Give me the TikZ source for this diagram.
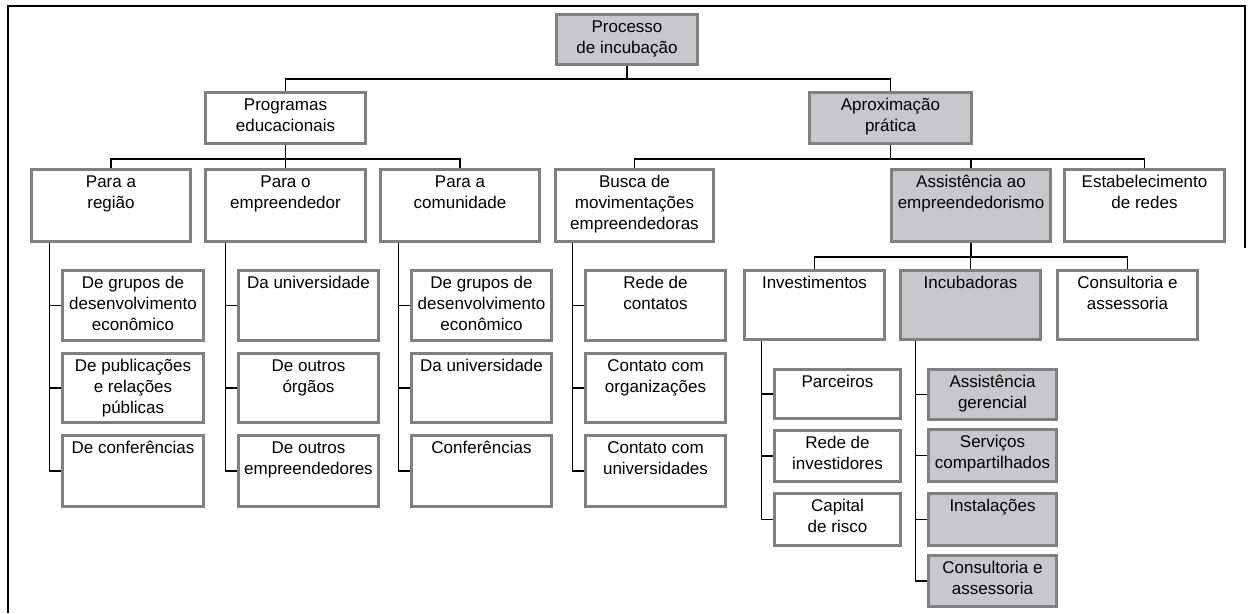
\documentclass[tikz,border=0pt]{standalone}
\usepackage{fontspec}
\setmainfont{Liberation Sans}
\usetikzlibrary{calc,backgrounds}

\definecolor{boxline}{RGB}{128,128,128}
\definecolor{boxgray}{RGB}{200,199,204}

\tikzset{
  box/.style={draw=boxline, line width=3pt, inner sep=0pt, outer sep=0pt,
              font=\fontsize{17pt}{21pt}\selectfont},
  whitebox/.style={box, fill=white},
  graybox/.style={box, fill=boxgray},
  conn/.style={draw=black, line width=1.5pt},
  frameline/.style={draw=black, line width=2.2pt}
}

% \bx[style]{name}{left}{top}{width}{height}{text}  (outer edges of the stroke)
\newcommand\bx[7][whitebox]{%
  \node[#1, anchor=north west] (#2) at ({#3+1.5},{#4+1.5})
    {\parbox[c][\dimexpr #6pt-3pt\relax][t]{\dimexpr #5pt-3pt\relax}%
      {\centering\rule{0pt}{18pt}#7\par}};}

% spine from parent down the left of its children
\newcommand\spine[3]{% parent, first child, last child
  \coordinate (#1-s) at ($(#2.west |- #1.south)+(-13,0)$);
  \draw[conn] (#1-s) |- (#3.west);}
\newcommand\branch[2]{\draw[conn] (#2.west) -- (#2.west -| #1-s);}

\begin{document}
\begin{tikzpicture}[x=1pt,y=-1pt]
\useasboundingbox (0,0) rectangle (1249,613);

% outer frame
\draw[frameline] (8,613) -- (8,6) -- (1245,6) -- (1245,248);

% level 1 and 2
\bx[graybox]{proc}{555}{13}{144}{53}{Processo\\de incubação}
\bx{prog}{204}{91}{163}{54}{Programas\\educacionais}
\bx[graybox]{aprox}{808}{91}{165}{54}{Aproximação\\prática}

% level 3
\bx{reg}{30}{168}{162}{75}{Para a\\região}
\bx{emp}{204}{168}{163}{75}{Para o\\empreendedor}
\bx{com}{379}{168}{162}{75}{Para a\\comunidade}
\bx{busca}{554}{168}{161}{75}{Busca de\\movimentações\\empreendedoras}
\bx[graybox]{assist}{890}{168}{162}{75}{Assistência ao\\empreendedorismo}
\bx{estab}{1063}{168}{163}{75}{Estabelecimento\\de redes}

% children of the educational programmes
\bx{reg1}{61}{269}{144}{73}{De grupos de\\desenvolvimento\\econômico}
\bx{reg2}{61}{352}{144}{72}{De publicações\\e relações\\públicas}
\bx{reg3}{61}{434}{144}{74}{De conferências}
\bx{emp1}{237}{269}{143}{73}{Da universidade}
\bx{emp2}{237}{352}{143}{72}{De outros\\órgãos}
\bx{emp3}{237}{434}{143}{74}{De outros\\empreendedores}
\bx{com1}{410}{269}{143}{73}{De grupos de\\desenvolvimento\\econômico}
\bx{com2}{410}{352}{143}{72}{Da universidade}
\bx{com3}{410}{434}{143}{74}{Conferências}
\bx{busca1}{584}{269}{143}{73}{Rede de\\contatos}
\bx{busca2}{584}{352}{143}{72}{Contato com\\organizações}
\bx{busca3}{584}{434}{143}{74}{Contato com\\universidades}

% level 4
\bx{inv}{743}{269}{143}{72}{Investimentos}
\bx[graybox]{incub}{899}{269}{143}{72}{Incubadoras}
\bx{cons}{1056}{269}{143}{72}{Consultoria e\\assessoria}

% level 5
\bx{inv1}{773}{368}{129}{52}{Parceiros}
\bx{inv2}{773}{429}{129}{54}{Rede de\\investidores}
\bx{inv3}{773}{492}{129}{55}{Capital\\de risco}
\bx[graybox]{inc1}{927}{368}{131}{53}{Assistência\\gerencial}
\bx[graybox]{inc2}{927}{428}{131}{55}{Serviços\\compartilhados}
\bx[graybox]{inc3}{927}{492}{131}{55}{Instalações}
\bx[graybox]{inc4}{927}{554}{131}{54}{Consultoria e\\assessoria}

\begin{pgfonlayer}{background}
  % hubs between levels
  \coordinate (h1) at (proc.south |- 0,79);
  \draw[conn] (proc.south) -- (h1);
  \draw[conn] (prog.north) |- (h1) -| (aprox.north);

  \coordinate (h2) at (prog.south |- 0,159);
  \draw[conn] (prog.south) -- (h2);
  \draw[conn] (reg.north) |- (h2) -| (com.north);
  \draw[conn] (h2 -| emp.north) -- (emp.north);

  \coordinate (h3) at (aprox.south |- 0,159);
  \draw[conn] (aprox.south) -- (h3);
  \draw[conn] (busca.north) |- (h3) -| (estab.north);
  \draw[conn] (h3 -| assist.north) -- (assist.north);

  \coordinate (h4) at (assist.south |- 0,257);
  \draw[conn] (assist.south) -- (h4);
  \draw[conn] (inv.north) |- (h4) -| (cons.north);
  \draw[conn] (h4 -| incub.north) -- (incub.north);

  % spines with their branches
  \spine{reg}{reg1}{reg3}   \branch{reg}{reg1}   \branch{reg}{reg2}
  \spine{emp}{emp1}{emp3}   \branch{emp}{emp1}   \branch{emp}{emp2}
  \spine{com}{com1}{com3}   \branch{com}{com1}   \branch{com}{com2}
  \spine{busca}{busca1}{busca3} \branch{busca}{busca1} \branch{busca}{busca2}
  \spine{inv}{inv1}{inv3}   \branch{inv}{inv1}   \branch{inv}{inv2}
  \spine{incub}{inc1}{inc4} \branch{incub}{inc1} \branch{incub}{inc2} \branch{incub}{inc3}
\end{pgfonlayer}
\end{tikzpicture}
\end{document}
